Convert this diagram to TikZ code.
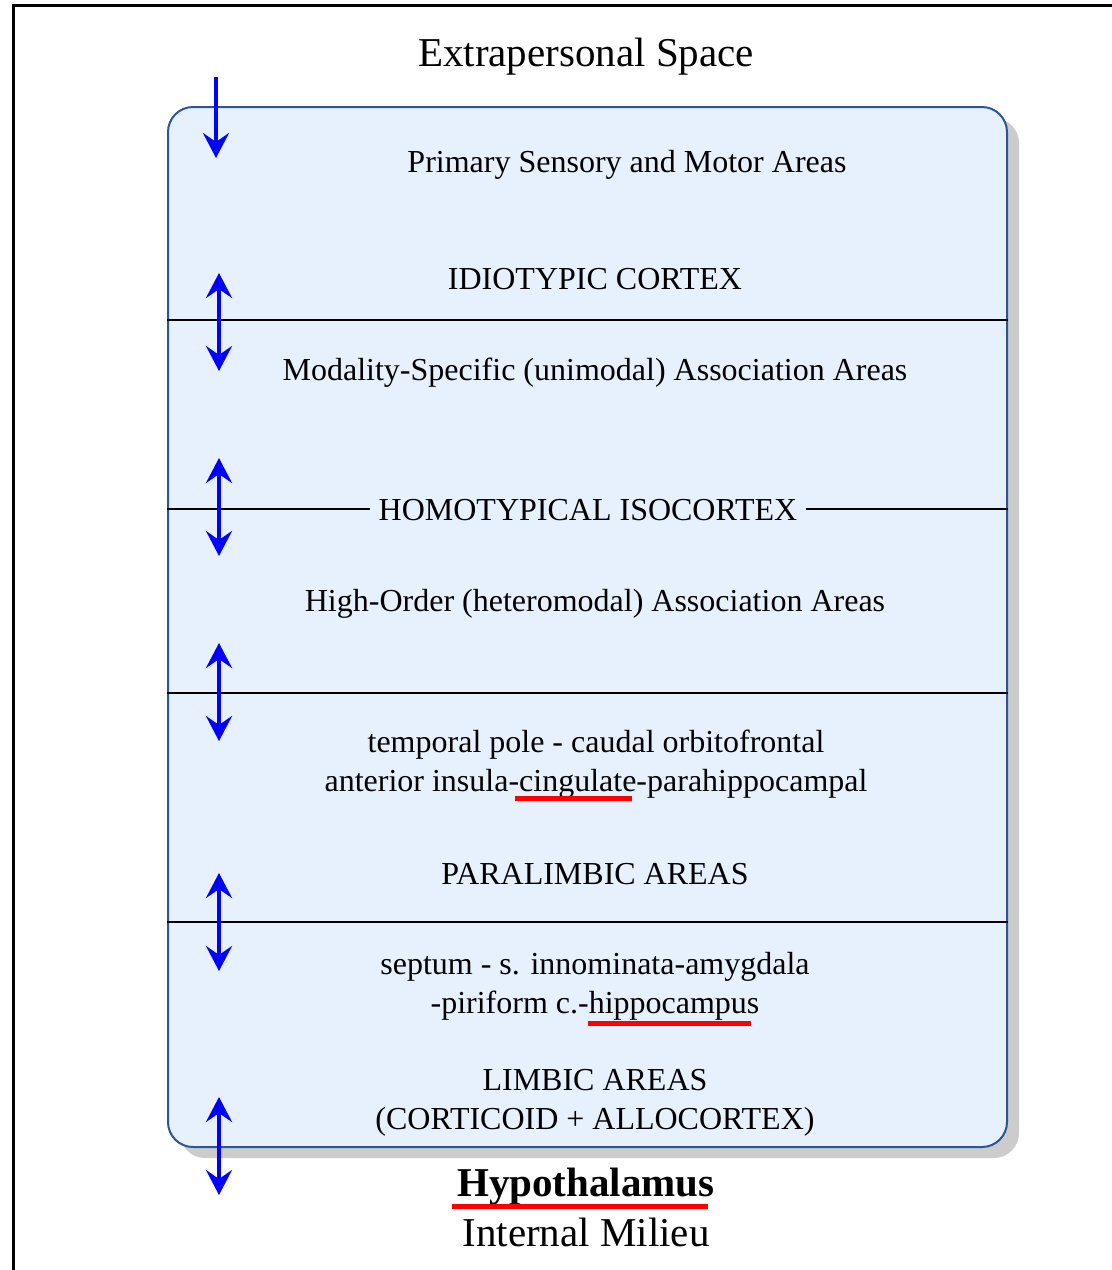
\documentclass[tikz,border=0pt]{standalone}
\usepackage{fontspec}
\setmainfont{Liberation Serif}
\usetikzlibrary{arrows.meta}
\usetikzlibrary{shadows}
\definecolor{areafill}{RGB}{231,241,253}
\definecolor{arealine}{RGB}{44,85,150}
\definecolor{shadowgray}{RGB}{204,204,204}
\tikzset{area/.style = {draw = arealine, fill = areafill, line width = 1pt, rounded corners = 12.5pt, minimum width = 419.5pt, minimum height = 520pt, drop shadow = {shadow xshift = 6pt, shadow yshift = -5.5pt, fill = shadowgray, opacity = 1}}}
\tikzset{lbl/.style = {font = \fontsize{16}{19.5}\selectfont, align = center, inner sep = 4pt}}
\tikzset{title/.style = {font = \fontsize{20.5}{24}\selectfont, inner sep = 1pt}}
\tikzset{divider/.style = {black, line width = 1pt}}
\tikzset{redline/.style = {red, line width = 2.5pt}}
\tikzset{flow/.style = {blue, line width = 2pt, -{Stealth[length = 12.5pt, width = 13pt, inset = 4.5pt]}}}
\tikzset{both/.style = {blue, line width = 2pt, {Stealth[length = 12.5pt, width = 13pt, inset = 4.5pt]}-{Stealth[length = 12.5pt, width = 13pt, inset = 4.5pt]}}}

\begin{document}
\begin{tikzpicture}[x = 0.5pt, y = -0.5pt]
      \useasboundingbox (0, 0) rectangle (1112, 1270);
      \draw [black, line width = 1.5pt] (13, 1275) -- (13, 5) -- (1115, 5);

      \node [area] at (587.5, 627) (cortex) {};

      \node [title] at (586, 57) (extra) {Extrapersonal Space};
      \node [lbl] at (627, 165) (primary) {Primary Sensory and Motor Areas};
      \node [lbl] at (595, 279) (idio) {IDIOTYPIC CORTEX};
      \node [lbl] at (595, 373) (unimodal) {Modality-Specific (unimodal) Association Areas};
      \node [lbl] at (588, 510) (homo) {HOMOTYPICAL ISOCORTEX};
      \node [lbl] at (595, 604) (heteromodal) {High-Order (heteromodal) Association Areas};
      \node [lbl] at (596, 764) (paradetail) {temporal pole - caudal orbitofrontal\\anterior insula-cingulate-parahippocampal};
      \node [lbl] at (595, 874) (paralimbic) {PARALIMBIC AREAS};
      \node [lbl] at (595, 986) (limbdetail) {septum - s. innominata-amygdala\\-piriform c.-hippocampus};
      \node [lbl] at (595, 1103) (limbic) {LIMBIC AREAS\\(CORTICOID + ALLOCORTEX)};
      \node [title] at (586, 1187) (hypo) {\textbf{Hypothalamus}};
      \node [title] at (586, 1232) (milieu) {Internal Milieu};

      \draw [divider] (cortex.west |- 0, 320) -- (cortex.east |- 0, 320);
      \draw [divider] (cortex.west |- 0, 509) -- (homo.west |- 0, 509);
      \draw [divider] (homo.east |- 0, 509) -- (cortex.east |- 0, 509);
      \draw [divider] (cortex.west |- 0, 693) -- (cortex.east |- 0, 693);
      \draw [divider] (cortex.west |- 0, 922) -- (cortex.east |- 0, 922);

      \draw [redline] (515, 798) -- (632, 798);
      \draw [redline] (588, 1023) -- (751, 1023);
      \draw [redline] (452, 1206) -- (708, 1206);

      \coordinate (in0) at (216, 77);
      \coordinate (out0) at (216, 158);
      \draw [flow] (in0) -- (out0);

      \foreach \y [count = \i] in {322, 507, 692, 922, 1146} {
        \coordinate (in\i) at (219, \y - 49);
        \coordinate (out\i) at (219, \y + 49);
        \draw [both] (in\i) -- (out\i);
      }
    \end{tikzpicture}
\end{document}
